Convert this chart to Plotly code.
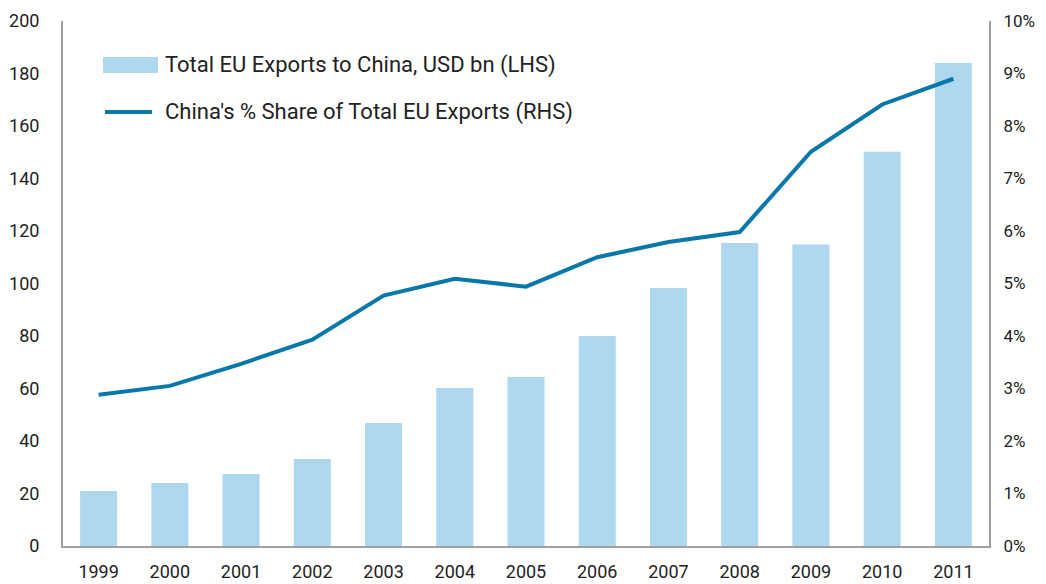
import plotly.graph_objects as go

years = ["1999", "2000", "2001", "2002", "2003", "2004", "2005", "2006", "2007", "2008", "2009", "2010", "2011"]
exports_usd_bn = [21.0, 24.0, 27.4, 33.1, 46.9, 60.2, 64.4, 80.0, 98.3, 115.4, 114.9, 150.2, 184.0]
china_share_pct = [2.88, 3.05, 3.47, 3.93, 4.77, 5.09, 4.94, 5.50, 5.79, 5.98, 7.51, 8.41, 8.90]
left_ticks = [0, 20, 40, 60, 80, 100, 120, 140, 160, 180, 200]
right_ticks = [0, 1, 2, 3, 4, 5, 6, 7, 8, 9, 10]
right_tick_labels = [f"{v}%" for v in right_ticks]

FONT = "Roboto, sans-serif"
TEXT_COLOR = "#222222"
BAR_COLOR = "#add8f0"
LINE_COLOR = "#0878aa"
AXIS_COLOR = "#a0a0a0"

# page body has an 8px margin, so the figure is offset by 8px; size it to fill the viewport
PW, PH = 1038, 576
ML, MR, MT, MB = 55, 57, 13, 38
plot_w = PW - ML - MR
plot_h = PH - MT - MB

def px(xs):
    return (xs - 63) / plot_w

def py(ys):
    return (546 - ys) / plot_h

fig = go.Figure()
fig.add_trace(go.Bar(
    x=years, y=exports_usd_bn, name="Total EU Exports to China, USD bn (LHS)",
    marker=dict(color=BAR_COLOR, line=dict(width=0)), yaxis="y", showlegend=False,
))
fig.add_trace(go.Scatter(
    x=years, y=china_share_pct, name="China's % Share of Total EU Exports (RHS)",
    mode="lines", line=dict(color=LINE_COLOR, width=4), yaxis="y2", showlegend=False,
))

# custom legend
fig.add_shape(type="rect", xref="paper", yref="paper",
              x0=px(103), x1=px(158), y0=py(73), y1=py(57),
              fillcolor=BAR_COLOR, line=dict(width=0))
fig.add_shape(type="line", xref="paper", yref="paper",
              x0=px(105), x1=px(152), y0=py(112), y1=py(112),
              line=dict(color=LINE_COLOR, width=4))
fig.add_annotation(xref="paper", yref="paper", x=px(163), y=py(65),
                   text="Total EU Exports to China, USD bn (LHS)", showarrow=False,
                   xanchor="left", yanchor="middle", font=dict(size=22, color=TEXT_COLOR, family=FONT))
fig.add_annotation(xref="paper", yref="paper", x=px(163), y=py(112),
                   text="China's % Share of Total EU Exports (RHS)", showarrow=False,
                   xanchor="left", yanchor="middle", font=dict(size=22, color=TEXT_COLOR, family=FONT))

fig.update_layout(
    width=PW, height=PH,
    margin=dict(l=ML, r=MR, t=MT, b=MB, autoexpand=False),
    paper_bgcolor="white", plot_bgcolor="white",
    font=dict(family=FONT, size=18, color=TEXT_COLOR),
    bargap=0.48,
    xaxis=dict(showline=True, linecolor=AXIS_COLOR, linewidth=2, ticks="", showgrid=False,
               tickfont=dict(size=18), ticklabelstandoff=8, automargin=False),
    yaxis=dict(range=[0, 200], tickvals=left_ticks, showline=True, linecolor=AXIS_COLOR, linewidth=2,
               showgrid=False, ticks="", zeroline=False, tickfont=dict(size=18), ticklabelstandoff=18,
               automargin=False),
    yaxis2=dict(range=[0, 10], tickvals=right_ticks, ticktext=right_tick_labels, overlaying="y",
                side="right", showline=True, linecolor=AXIS_COLOR, linewidth=2, showgrid=False,
                ticks="", zeroline=False, tickfont=dict(size=17), ticklabelstandoff=9,
                automargin=False),
)

fig.write_html("out.html")
